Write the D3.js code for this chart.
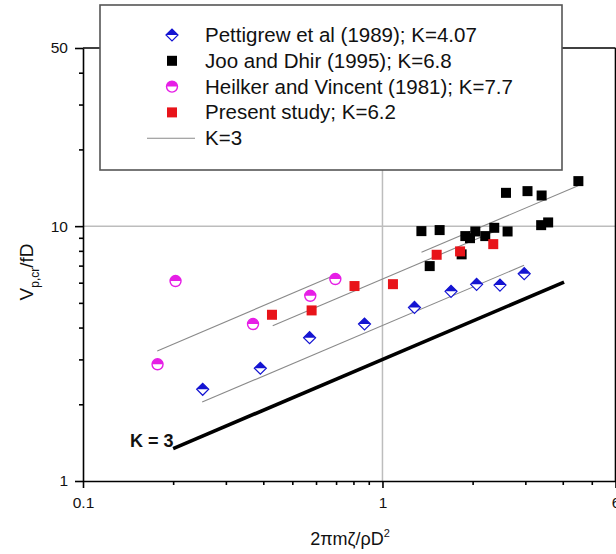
<!DOCTYPE html>
<html lang="en">
<head>
<meta charset="UTF-8">
<title>Vp,cr/fD vs mass-damping</title>
<script src="https://d3js.org/d3.v7.min.js"></script>
<style>
    body { margin: 0; background: #fff; }
    svg { display: block; font-family: "Liberation Sans", Arial, sans-serif; }
    .axis path, .axis line { stroke: #000; stroke-width: 1.6; }
    .axis text { font-size: 15.5px; fill: #111; }
</style>
</head>
<body>
<div id="chart"></div>
<script>
// data
const pettigrewX = [0.251, 0.391, 0.571, 0.871, 1.279, 1.694, 2.062, 2.468, 2.974];
const pettigrewY = [2.29, 2.77, 3.65, 4.13, 4.80, 5.55, 5.91, 5.87, 6.51];

const jooX = [1.349, 1.552, 1.438, 1.838, 1.891, 1.960, 2.042, 2.204, 2.362, 2.617, 2.585, 3.05, 3.40, 3.388, 3.575, 4.51];
const jooY = [9.56, 9.65, 6.97, 7.75, 9.14, 8.97, 9.53, 9.14, 9.85, 9.53, 13.51, 13.72, 13.19, 10.09, 10.34, 15.02];

const heilkerX = [0.1774, 0.2037, 0.3696, 0.574, 0.696];
const heilkerY = [2.87, 6.09, 4.13, 5.33, 6.2];

const presentX = [0.4276, 0.580, 0.8065, 1.084, 1.517, 1.816, 2.344];
const presentY = [4.49, 4.67, 5.82, 5.92, 7.72, 7.96, 8.50];

// fitted lines, end points [x, y]
const pettigrewFit = [[0.25, 2.04], [2.97, 7.02]];
const jooFit = [[1.35, 7.90], [4.5, 14.4]];
const heilkerFit = [[0.177, 3.24], [0.683, 6.37]];
const presentFit = [[0.43, 4.07], [2.35, 9.50]];
const k3Line = [[0.2, 1.34], [4.04, 6.03]];

const legendLabels = ["Pettigrew et al (1989); K=4.07", "Joo and Dhir (1995); K=6.8",
    "Heilker and Vincent (1981); K=7.7", "Present study; K=6.2", "K=3"];

const xMajor = [0.1, 1, 6];
const xMinor = [0.2, 0.3, 0.4, 0.5, 0.6, 0.7, 0.8, 0.9, 2, 3, 4, 5];
const yMajor = [1, 10, 50];
const yMinor = [2, 3, 4, 5, 6, 7, 8, 9, 20, 30, 40];

const W = 616, H = 554;
const blue = "#1414d2", magenta = "#e61ee6", red = "#e8141a";

const svg = d3.select("#chart").append("svg")
    .attr("width", W)
    .attr("height", H);

const x = d3.scaleLog().domain([0.1, 6]).range([83, 615.5]);
const y = d3.scaleLog().domain([1, 50]).range([481, 48]);

// grid lines at 1 and 10
svg.append("line")
    .attr("x1", x(1)).attr("x2", x(1))
    .attr("y1", y(50)).attr("y2", y(1))
    .attr("stroke", "#bdbdbd").attr("stroke-width", 1.5);
svg.append("line")
    .attr("x1", x(0.1)).attr("x2", x(6))
    .attr("y1", y(10)).attr("y2", y(10))
    .attr("stroke", "#bdbdbd").attr("stroke-width", 1.5);

// frame top + right
svg.append("line")
    .attr("x1", x(0.1)).attr("x2", x(6))
    .attr("y1", y(50)).attr("y2", y(50))
    .attr("stroke", "#000").attr("stroke-width", 1.6);
svg.append("line")
    .attr("x1", x(6)).attr("x2", x(6))
    .attr("y1", y(50)).attr("y2", y(1))
    .attr("stroke", "#000").attr("stroke-width", 1.6);

// axes
svg.append("g").attr("class", "axis")
    .attr("transform", `translate(0,${y(1)})`)
    .call(d3.axisBottom(x).tickValues(xMinor).tickSize(4).tickFormat(""))
    .call(g => g.select(".domain").remove());
svg.append("g").attr("class", "axis")
    .attr("transform", `translate(0,${y(1)})`)
    .call(d3.axisBottom(x).tickValues(xMajor).tickSizeInner(7).tickSizeOuter(0).tickPadding(9)
        .tickFormat(d => d === 0.1 ? "0.1" : String(d)));

svg.append("g").attr("class", "axis")
    .attr("transform", `translate(${x(0.1)},0)`)
    .call(d3.axisLeft(y).tickValues(yMinor).tickSize(4).tickFormat(""))
    .call(g => g.select(".domain").remove());
svg.append("g").attr("class", "axis")
    .attr("transform", `translate(${x(0.1)},0)`)
    .call(d3.axisLeft(y).tickValues(yMajor).tickSizeInner(8).tickSizeOuter(0).tickPadding(7)
        .tickFormat(d3.format("d")));

// axis titles
svg.append("text")
    .attr("x", 350).attr("y", 545)
    .attr("text-anchor", "middle")
    .attr("font-size", 18)
    .attr("fill", "#111")
    .text("2πmζ/ρD")
    .append("tspan")
    .attr("dy", -8).attr("font-size", 11)
    .text("2");

const yTitle = svg.append("text")
    .attr("transform", "translate(33,272) rotate(-90)")
    .attr("text-anchor", "middle")
    .attr("font-size", 19)
    .attr("fill", "#111");
yTitle.append("tspan").text("V");
yTitle.append("tspan").attr("dy", 6).attr("font-size", 12).text("p,cr");
yTitle.append("tspan").attr("dy", -6).text("/fD");

// fitted lines
const line = d3.line().x(d => x(d[0])).y(d => y(d[1]));
[pettigrewFit, jooFit, heilkerFit, presentFit].forEach(f => {
    svg.append("path")
        .attr("d", line(f))
        .attr("fill", "none")
        .attr("stroke", "#8a8a8a")
        .attr("stroke-width", 1.1);
});
svg.append("path")
    .attr("d", line(k3Line))
    .attr("fill", "none")
    .attr("stroke", "#000")
    .attr("stroke-width", 3.6);

svg.append("text")
    .attr("x", 130).attr("y", 447)
    .attr("font-size", 18)
    .attr("font-weight", "bold")
    .attr("fill", "#111")
    .text("K = 3");

// marker helpers
function diamond(g, cx, cy) {
    const s = 6;
    g.append("path")
        .attr("d", `M${cx - s},${cy} L${cx},${cy - s} L${cx + s},${cy} L${cx},${cy + s} Z`)
        .attr("fill", "#fff").attr("stroke", blue).attr("stroke-width", 1.2);
    g.append("path")
        .attr("d", `M${cx - s},${cy} L${cx},${cy - s} L${cx + s},${cy} Z`)
        .attr("fill", blue);
}
function halfCircle(g, cx, cy) {
    const r = 5.5;
    g.append("circle")
        .attr("cx", cx).attr("cy", cy).attr("r", r)
        .attr("fill", "#fff").attr("stroke", magenta).attr("stroke-width", 1.4);
    g.append("path")
        .attr("d", `M${cx - r},${cy} A${r},${r} 0 0 1 ${cx + r},${cy} Z`)
        .attr("fill", magenta);
}
function square(g, cx, cy, color) {
    const s = 10;
    g.append("rect")
        .attr("x", cx - s / 2).attr("y", cy - s / 2)
        .attr("width", s).attr("height", s)
        .attr("fill", color);
}

const marks = svg.append("g");
heilkerX.forEach((v, i) => halfCircle(marks, x(v), y(heilkerY[i])));
pettigrewX.forEach((v, i) => diamond(marks, x(v), y(pettigrewY[i])));
jooX.forEach((v, i) => square(marks, x(v), y(jooY[i]), "#000"));
presentX.forEach((v, i) => square(marks, x(v), y(presentY[i]), red));

// legend
const lg = svg.append("g");
lg.append("rect")
    .attr("x", 100).attr("y", 5)
    .attr("width", 462).attr("height", 165)
    .attr("fill", "#fff")
    .attr("stroke", "#555").attr("stroke-width", 1.6);

const rowY = d => 35 + d * 25.8;
diamond(lg, 172, rowY(0));
square(lg, 172, rowY(1), "#000");
halfCircle(lg, 172, rowY(2));
square(lg, 172, rowY(3), red);
lg.append("line")
    .attr("x1", 147).attr("x2", 195)
    .attr("y1", rowY(4)).attr("y2", rowY(4))
    .attr("stroke", "#8a8a8a").attr("stroke-width", 1.1);

lg.selectAll("text.leg")
    .data(legendLabels)
    .join("text")
    .attr("class", "leg")
    .attr("x", 205)
    .attr("y", (d, i) => rowY(i) + 7)
    .attr("font-size", 20.5)
    .attr("fill", "#111")
    .text(d => d);
</script>
</body>
</html>
